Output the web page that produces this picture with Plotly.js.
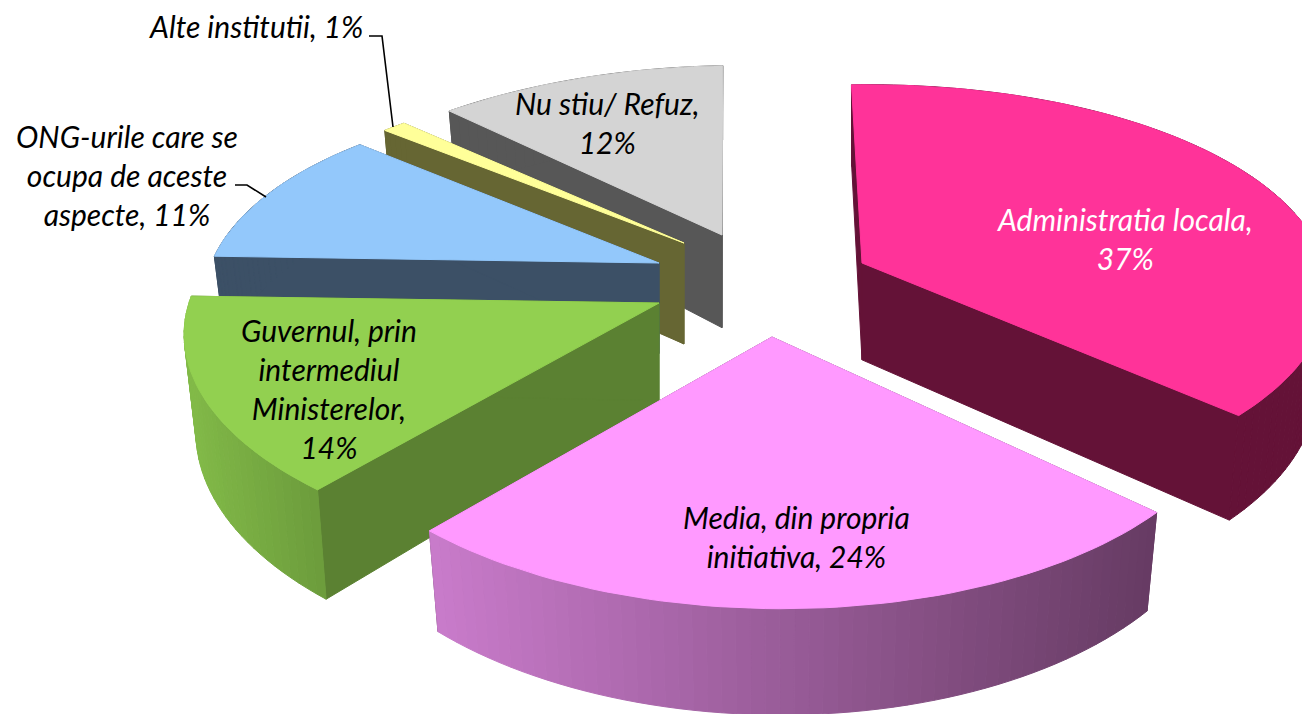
<!DOCTYPE html>
<html><head><meta charset="utf-8">
<script src="https://cdn.plot.ly/plotly-3.0.1.min.js"></script>
<style>html,body{margin:0;padding:0;background:#fff}#c{width:1302px;height:714px}</style>
</head><body><div id="c"></div>
<script>
// Data
const categories = ["Administratia locala","Media, din propria initiativa","Guvernul, prin intermediul Ministerelor","ONG-urile care se ocupa de aceste aspecte","Alte institutii","Nu stiu/ Refuz"];
const values = [37,24,14,11,1,12];
const labelLines = [
 ["Administratia locala,"],["Media, din propria","initiativa,"],["Guvernul, prin","intermediul","Ministerelor,"],
 ["ONG-urile care se","ocupa de aceste","aspecte,"],["Alte institutii,"],["Nu stiu/ Refuz,"]];
const labelBreakLast = [true,false,true,false,false,true];
const labelX = [1125,796,329,127,256,607];
const labelY = [238,536,388,175,26,122];
const labelColor = ["#ffffff","#000000","#000000","#000000","#000000","#000000"];

// Styles
const topColor  = ["#FF3399","#FF99FF","#92D050","#93C8FB","#FFFF99","#D4D4D4"];
const wallColor = ["#641237","#663B63","#5B8132","#3C5066","#666633","#575757"];
const sideLeft  = ["#641237","#C97BCB","#82BA48","#3C5066","#666633","#575757"];
const sideRight = ["#641237","#663B63","#6C9C3C","#3C5066","#666633","#575757"];
// Exploded apex of each slice on the page, and perspective of the tilted pie
const apexX = [862,772,659,659,684,722];
const apexY = [263,337,303,263,243,235];
const radX  = [462,456,468,445,445,452];
const radY  = [205,220,214,200,198,205];
const persp = [0.15,0.19,0.17,0.21,0.21,0.21];
const skew  = [7,5,0,0,0,17];
const tilt  = [0,9,6,6,0,0];
const depth = [94,86,95,88,98,90];
const ROTATION = -2.5, SHRINK = 0.975;

const total = values.reduce((a,b)=>a+b,0);
function pt(i,deg,bottom){
  const r = deg*Math.PI/180, x = Math.sin(r), y = Math.cos(r), s = 1/(1+persp[i]*y);
  let px = radX[i]*x*s + skew[i]*y, py = -radY[i]*y*s + tilt[i]*x;
  if(bottom){ px *= SHRINK; py += depth[i]*s; }
  return [apexX[i]+px, apexY[i]+py];
}
function apex(i,bottom){ return [apexX[i], apexY[i]+(bottom?depth[i]*1.03:0)]; }
function hex(c){return [1,3,5].map(k=>parseInt(c.substr(k,2),16));}
function mix(a,b,t){const A=hex(a),B=hex(b);return 'rgb('+A.map((v,k)=>Math.round(v+(B[k]-v)*t)).join(',')+')';}
function poly(points,color){
  return {type:'scatter',mode:'lines',x:points.map(p=>p[0]).concat(points[0][0]),y:points.map(p=>p[1]).concat(points[0][1]),
    fill:'toself',fillcolor:color,line:{color:color,width:1},hoverinfo:'skip',showlegend:false};
}
const traces=[]; let cum=ROTATION;
const spans = values.map(v=>{const a=cum; cum+=v/total*360; return [a,cum];});
// back-to-front painting order
[5,4,3,2,0,1].forEach(i=>{
  const [a0,a1]=spans[i];
  traces.push(poly([apex(i),pt(i,a0),pt(i,a0,true),apex(i,true)],wallColor[i]));
  traces.push(poly([apex(i),pt(i,a1),pt(i,a1,true),apex(i,true)],wallColor[i]));
  const n=Math.max(4,Math.round((a1-a0)/1.5)), step=(a1-a0)/n;
  const xs=[];for(let k=0;k<=n;k++)xs.push(pt(i,a0+k*step)[0]);
  const lo=Math.min(...xs),hi=Math.max(...xs);
  for(let k=0;k<n;k++){
    const a=a0+k*step,p=pt(i,a),q=pt(i,a+step);
    const t=((p[0]+q[0])/2-lo)/(hi-lo);
    traces.push(poly([p,q,pt(i,a+step,true),pt(i,a,true)],mix(sideLeft[i],sideRight[i],t)));
  }
  const top=[apex(i)];
  for(let k=0;k<=n;k++)top.push(pt(i,a0+k*step));
  traces.push(poly(top,topColor[i]));
});

const annotations = categories.map((c,i)=>{
  const lines=labelLines[i].slice();
  const pct=values[i]+'%';
  if(labelBreakLast[i]) lines.push(pct); else lines[lines.length-1]+=' '+pct;
  return {x:labelX[i],y:labelY[i],xref:'x',yref:'y',showarrow:false,xanchor:'center',yanchor:'middle',align:'center',
    text:'<i>'+lines.join('<br>')+'</i>',font:{family:'Lato, Carlito, sans-serif',size:30,color:labelColor[i]}};
});
const leader=(pts)=>({type:'path',xref:'x',yref:'y',line:{color:'#000',width:1.6},
  path:'M'+pts.map(p=>p.join(',')).join(' L')});
const layout={width:1302,height:714,margin:{l:0,r:0,t:0,b:0},paper_bgcolor:'#fff',plot_bgcolor:'#fff',showlegend:false,
  xaxis:{range:[0,1302],visible:false,fixedrange:true},
  yaxis:{range:[714,0],visible:false,fixedrange:true},
  annotations,
  shapes:[leader([[369,36],[382,36],[393,127]]),leader([[235,185],[247,185],[266,197]])]
};
Plotly.newPlot('c',traces,layout,{displayModeBar:false,staticPlot:true});
</script></body></html>
